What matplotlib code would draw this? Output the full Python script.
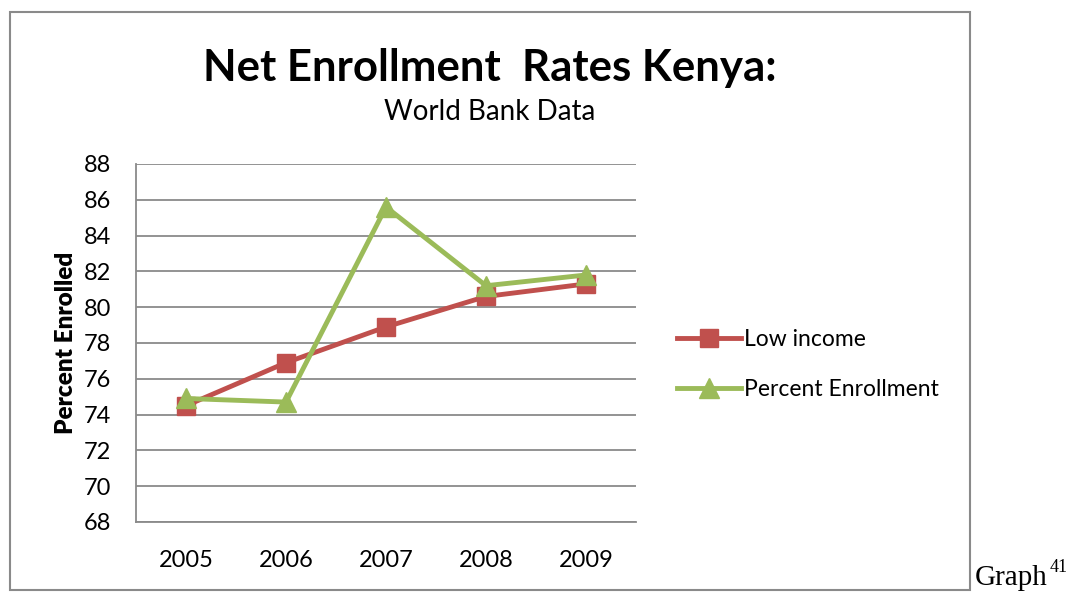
import matplotlib.pyplot as plt
from matplotlib.patches import Rectangle

years = ['2005', '2006', '2007', '2008', '2009']
low_income = [74.5, 76.9, 78.9, 80.6, 81.3]
percent_enrollment = [74.9, 74.7, 85.6, 81.2, 81.8]
y_ticks = list(range(68, 89, 2))

plt.rcParams['font.family'] = ['Lato', 'DejaVu Sans']

W, H = 1080, 592
fig = plt.figure(figsize=(W / 100, H / 100), dpi=100)

# outer chart frame
fig.patches.append(Rectangle((10 / W, 1 - 590 / H), 960 / W, 578 / H,
                             transform=fig.transFigure, fill=False,
                             edgecolor='#8a8a8a', linewidth=1.5))

ax = fig.add_axes([136 / W, 1 - 522 / H, 500 / W, 358 / H])
x = range(len(years))
ax.plot(x, low_income, color='#C0504D', linewidth=3.5, marker='s',
        markersize=13, label='Low income')
ax.plot(x, percent_enrollment, color='#9BBB59', linewidth=3.5, marker='^',
        markersize=14, label='Percent Enrollment')

ax.set_xlim(-0.5, 4.5)
ax.set_ylim(68, 88)
ax.set_yticks(y_ticks)
ax.set_xticks(list(x))
ax.set_xticklabels(years)
ax.tick_params(axis='both', labelsize=17, length=0)
ax.tick_params(axis='y', pad=18)
ax.tick_params(axis='x', pad=20)
ax.yaxis.grid(True, color='#8a8a8a', linewidth=1.3)
ax.set_axisbelow(True)
for side in ['top', 'right']:
    ax.spines[side].set_visible(False)
for side in ['left', 'bottom']:
    ax.spines[side].set_color('#8a8a8a')
    ax.spines[side].set_linewidth(1.3)
ax.set_ylabel('Percent Enrolled', fontsize=17.5, fontweight='heavy')
ax.yaxis.set_label_coords((77 - 136) / 500, 0.5)

fig.text(490 / W, 1 - 68 / H, 'Net Enrollment  Rates Kenya:', ha='center',
         va='center', fontsize=31.5, fontweight='bold')
fig.text(490 / W, 1 - 112 / H, 'World Bank Data', ha='center', va='center',
         fontsize=20)

ax.legend(loc='center left', bbox_to_anchor=(1.04, 0.44), frameon=False,
          fontsize=16.5, handlelength=2.8, labelspacing=1.25,
          handletextpad=0.15)

fig.text(975 / W, 1 - 585 / H, 'Graph', family='Liberation Serif',
         fontsize=21, ha='left', va='baseline')
fig.text(1050 / W, 1 - 572 / H, '41', family='Liberation Serif',
         fontsize=13, ha='left', va='baseline')

fig.savefig('out.png', dpi=100)
